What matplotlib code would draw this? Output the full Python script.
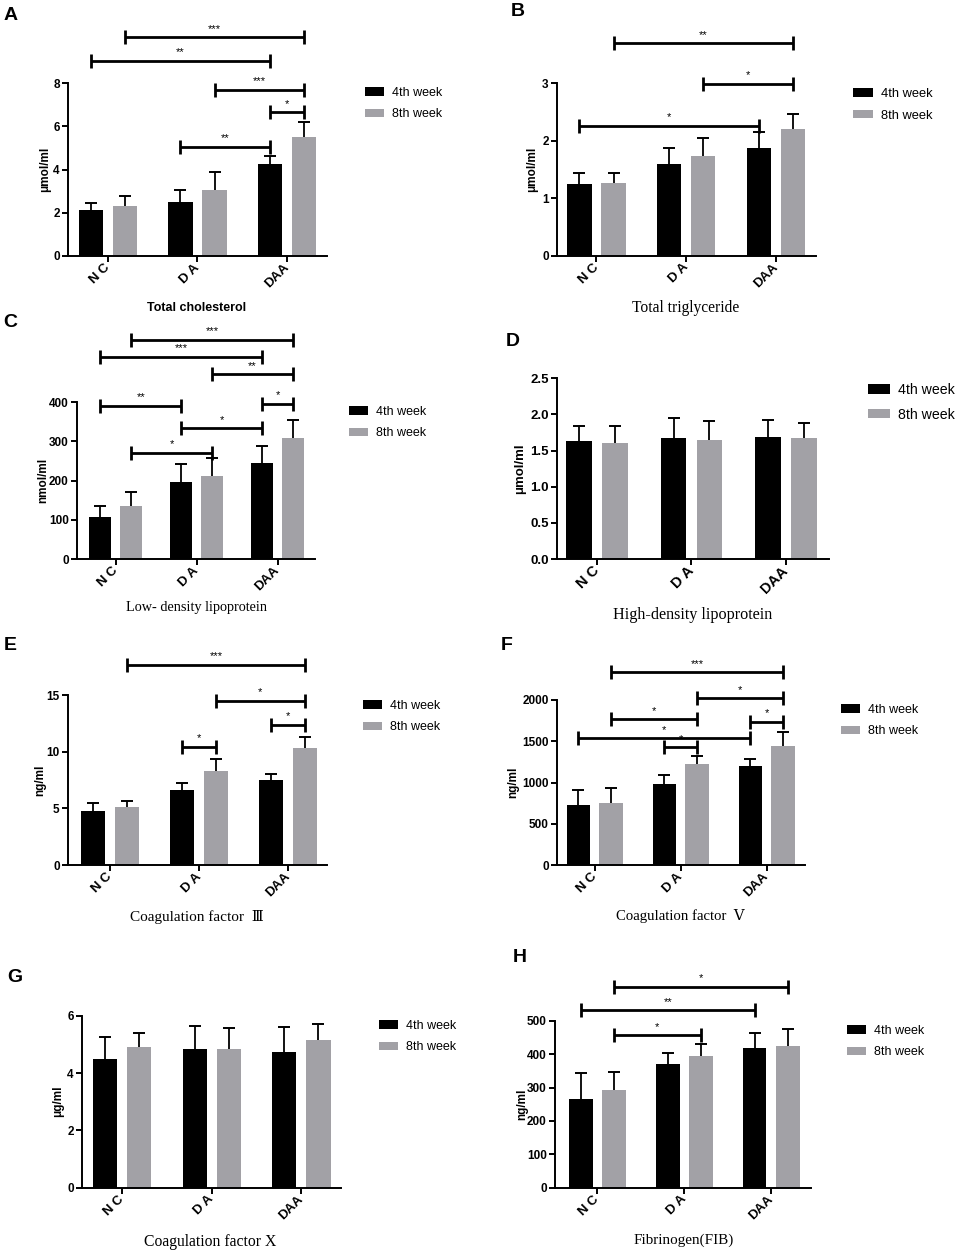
import matplotlib
matplotlib.use('Agg')
import matplotlib.pyplot as plt
import numpy as np

plt.rcParams['font.family'] = ['Liberation Sans', 'DejaVu Sans']

categories = ['N C', 'D A', 'DAA']
series_names = ['4th week', '8th week']

# A Total cholesterol (umol/ml)
tc_w4 = [2.12, 2.51, 4.27]
tc_w4_sd = [0.34, 0.54, 0.34]
tc_w8 = [2.32, 3.05, 5.48]
tc_w8_sd = [0.47, 0.82, 0.72]
tc_sig = [((0, 1), (2, 1), 10.12, '***'), ((0, 0), (2, 0), 9.04, '**'),
          ((1, 1), (2, 1), 7.69, '***'), ((2, 0), (2, 1), 6.64, '*'),
          ((1, 0), (2, 0), 5.06, '**')]

# B Total triglyceride (umol/ml)
tg_w4 = [1.25, 1.60, 1.87]
tg_w4_sd = [0.195, 0.28, 0.29]
tg_w8 = [1.27, 1.735, 2.205]
tg_w8_sd = [0.175, 0.32, 0.265]
tg_sig = [((0, 1), (2, 1), 3.70, '**'), ((1, 1), (2, 1), 2.99, '*'),
          ((0, 0), (2, 0), 2.258, '*')]

# C Low-density lipoprotein (nmol/ml)
ldl_w4 = [108, 197, 246]
ldl_w4_sd = [28, 45.5, 43]
ldl_w8 = [136, 213, 308]
ldl_w8_sd = [36, 46, 46]
ldl_sig = [((0, 1), (2, 1), 559, '***'), ((0, 0), (2, 0), 516.6, '***'),
           ((1, 1), (2, 1), 472, '**'), ((2, 0), (2, 1), 396, '*'),
           ((0, 0), (1, 0), 391.5, '**'), ((1, 0), (2, 0), 333.6, '*'),
           ((0, 1), (1, 1), 271.5, '*')]

# D High-density lipoprotein (umol/ml)
hdl_w4 = [1.637, 1.67, 1.684]
hdl_w4_sd = [0.208, 0.277, 0.244]
hdl_w8 = [1.605, 1.651, 1.674]
hdl_w8_sd = [0.231, 0.259, 0.203]
hdl_sig = []

# E Coagulation factor III (ng/ml)
f3_w4 = [4.76, 6.59, 7.47]
f3_w4_sd = [0.74, 0.65, 0.53]
f3_w8 = [5.12, 8.29, 10.35]
f3_w8_sd = [0.50, 1.09, 0.97]
f3_sig = [((0, 1), (2, 1), 17.68, '***'), ((1, 1), (2, 1), 14.47, '*'),
          ((2, 0), (2, 1), 12.38, '*'), ((1, 0), (1, 1), 10.44, '*')]

# F Coagulation factor V (ng/ml)
f5_w4 = [723, 982, 1204]
f5_w4_sd = [190, 105, 81]
f5_w8 = [747, 1224, 1446]
f5_w8_sd = [190, 97, 162]
f5_sig = [((0, 1), (2, 1), 2335, '***'), ((1, 1), (2, 1), 2020, '*'),
          ((0, 1), (1, 1), 1766, '*'), ((2, 0), (2, 1), 1737, '*'),
          ((0, 0), (2, 0), 1535, '*'), ((1, 0), (1, 1), 1426, '*')]

# G Coagulation factor X (ug/ml)
f10_w4 = [4.49, 4.83, 4.74]
f10_w4_sd = [0.78, 0.81, 0.86]
f10_w8 = [4.91, 4.85, 5.14]
f10_w8_sd = [0.47, 0.73, 0.56]
f10_sig = []

# H Fibrinogen (ng/ml)
fib_w4 = [266.5, 369, 419]
fib_w4_sd = [77.5, 33, 45]
fib_w8 = [294, 394, 425]
fib_w8_sd = [52, 36, 50]
fib_sig = [((0, 1), (2, 1), 602, '*'), ((0, 0), (2, 0), 531, '**'),
           ((0, 1), (1, 1), 456, '*')]

yticks_A = [0, 2, 4, 6, 8]
yticks_B = [0, 1, 2, 3]
yticks_C = [0, 100, 200, 300, 400]
yticks_D = [0.0, 0.5, 1.0, 1.5, 2.0, 2.5]
yticks_E = [0, 5, 10, 15]
yticks_F = [0, 500, 1000, 1500, 2000]
yticks_G = [0, 2, 4, 6]
yticks_H = [0, 100, 200, 300, 400, 500]

W, H = 962, 1253
BLACK = '#000000'
GRAY = '#a2a1a6'
OFFS = [-0.19, 0.19]
BW = 0.27

panels = [
    dict(letter='A', lxy=(11, 15), box=(68, 83, 327, 256), xlim=(-0.447, 2.447),
         w4=tc_w4, w4sd=tc_w4_sd, w8=tc_w8, w8sd=tc_w8_sd, sig=tc_sig, yticks=yticks_A, yfmt='{:g}',
         ylabel='μmol/ml', ylx=45, xlabel='Total cholesterol', xlxy=(197, 308), serif=False, xfs=9,
         leg=(365, 94), lfs=9, tfs=8.5),
    dict(letter='B', lxy=(518, 12), box=(557, 83.3, 816, 255.7), xlim=(-0.44, 2.447),
         w4=tg_w4, w4sd=tg_w4_sd, w8=tg_w8, w8sd=tg_w8_sd, sig=tg_sig, yticks=yticks_B, yfmt='{:g}',
         ylabel='μmol/ml', ylx=532, xlabel='Total triglyceride', xlxy=(686, 308), serif=True, xfs=11.2,
         leg=(853, 95), lfs=9.3, tfs=8.5),
    dict(letter='C', lxy=(10, 322), box=(77, 402.3, 315, 559), xlim=(-0.478, 2.46),
         w4=ldl_w4, w4sd=ldl_w4_sd, w8=ldl_w8, w8sd=ldl_w8_sd, sig=ldl_sig, yticks=yticks_C, yfmt='{:g}',
         ylabel='nmol/ml', ylx=43, xlabel='Low- density lipoprotein', xlxy=(197, 608), serif=True, xfs=10.3,
         leg=(349, 413), lfs=9, tfs=8.5),
    dict(letter='D', lxy=(513, 341), box=(557, 378.3, 829, 559), xlim=(-0.424, 2.456),
         w4=hdl_w4, w4sd=hdl_w4_sd, w8=hdl_w8, w8sd=hdl_w8_sd, sig=hdl_sig, yticks=yticks_D, yfmt='{:.1f}',
         ylabel='μmol/ml', ylx=520, xlabel='High-density lipoprotein', xlxy=(693, 615), serif=True, xfs=11.6,
         leg=(868, 390), lfs=10.2, tfs=9.5),
    dict(letter='E', lxy=(10, 645), box=(68, 695, 327, 865), xlim=(-0.477, 2.44),
         w4=f3_w4, w4sd=f3_w4_sd, w8=f3_w8, w8sd=f3_w8_sd, sig=f3_sig, yticks=yticks_E, yfmt='{:g}',
         ylabel='ng/ml', ylx=40, xlabel='Coagulation factor  Ⅲ', xlxy=(197, 917), serif=True, xfs=11,
         leg=(363, 707), lfs=9, tfs=8.5),
    dict(letter='F', lxy=(507, 645), box=(557, 700, 805, 865), xlim=(-0.439, 2.447),
         w4=f5_w4, w4sd=f5_w4_sd, w8=f5_w8, w8sd=f5_w8_sd, sig=f5_sig, yticks=yticks_F, yfmt='{:g}',
         ylabel='ng/ml', ylx=513, xlabel='Coagulation factor  Ⅴ', xlxy=(680, 916), serif=True, xfs=10.6,
         leg=(841, 711), lfs=9, tfs=8.5),
    dict(letter='G', lxy=(15, 977), box=(82, 1015.7, 341, 1187.7), xlim=(-0.446, 2.442),
         w4=f10_w4, w4sd=f10_w4_sd, w8=f10_w8, w8sd=f10_w8_sd, sig=f10_sig, yticks=yticks_G, yfmt='{:g}',
         ylabel='μg/ml', ylx=58, xlabel='Coagulation factor X', xlxy=(210, 1242), serif=True, xfs=11.3,
         leg=(379, 1027), lfs=9, tfs=8.5),
    dict(letter='H', lxy=(520, 957), box=(555, 1020.7, 811, 1187.7), xlim=(-0.4875, 2.457),
         w4=fib_w4, w4sd=fib_w4_sd, w8=fib_w8, w8sd=fib_w8_sd, sig=fib_sig, yticks=yticks_H, yfmt='{:g}',
         ylabel='ng/ml', ylx=522, xlabel='Fibrinogen(FIB)', xlxy=(684, 1240), serif=True, xfs=10.9,
         leg=(847, 1032), lfs=9, tfs=8.5),
]

SERIF = ['Liberation Serif', 'DejaVu Serif', 'Noto Sans CJK SC', 'DejaVu Sans']

fig = plt.figure(figsize=(W / 100, H / 100), dpi=100)

for p in panels:
    l, t, r, b = p['box']
    ax = fig.add_axes([l / W, 1 - b / H, (r - l) / W, (b - t) / H])
    x = np.arange(len(categories))
    b1 = ax.bar(x + OFFS[0], p['w4'], width=BW, color=BLACK, label=series_names[0], zorder=2)
    b2 = ax.bar(x + OFFS[1], p['w8'], width=BW, color=GRAY, label=series_names[1], zorder=2)
    # one-sided (upper) error bars
    for vals, sds, off in ((p['w4'], p['w4sd'], OFFS[0]), (p['w8'], p['w8sd'], OFFS[1])):
        vals = np.asarray(vals, float)
        tops = vals + np.asarray(sds, float)
        ax.vlines(x + off, vals, tops, color='k', lw=1.3, zorder=3)
        ax.plot(x + off, tops, ls='none', marker='_', ms=8, mew=1.4, color='k', zorder=3)
    ax.set_xlim(*p['xlim'])
    yt = p['yticks']
    ax.set_ylim(yt[0], yt[-1])
    ax.set_yticks(yt)
    ax.set_yticklabels([p['yfmt'].format(v) for v in yt], fontweight='bold', fontsize=p['tfs'])
    ax.set_xticks(x)
    ax.set_xticklabels(categories, rotation=45, ha='right', va='center', rotation_mode='anchor',
                       fontweight='bold', fontsize=p['tfs'] + 1)
    for s in ('top', 'right'):
        ax.spines[s].set_visible(False)
    for s in ('left', 'bottom'):
        ax.spines[s].set_linewidth(1.4)
    ax.tick_params(axis='both', length=4, width=1.4, pad=2)
    ax.tick_params(axis='x', pad=3)

    # significance brackets
    for (ga, sa), (gb, sb), y, stars in p['sig']:
        x1 = ga + OFFS[sa]
        x2 = gb + OFFS[sb]
        ax.plot([x1, x2], [y, y], color='k', lw=2, clip_on=False, solid_capstyle='butt', zorder=4)
        ax.plot([x1, x2], [y, y], ls='none', marker='|', ms=10, mew=2, color='k',
                clip_on=False, zorder=4)
        ax.annotate(stars, xy=((x1 + x2) / 2, y), xytext=(0, 2.5), textcoords='offset points',
                    ha='center', va='bottom', fontsize=8, annotation_clip=False)

    # y label
    ax.set_ylabel(p['ylabel'], fontweight='bold', fontsize=p['tfs'])
    ax.yaxis.set_label_coords((p['ylx'] - l) / (r - l), 0.5)
    ax.yaxis.label.set_va('center')

    # x label
    xc, yc = p['xlxy']
    if p['serif']:
        ax.set_xlabel(p['xlabel'], family=SERIF, fontsize=p['xfs'])
    else:
        ax.set_xlabel(p['xlabel'], fontweight='bold', fontsize=p['xfs'])
    ax.xaxis.set_label_coords((xc - l) / (r - l), (b - yc) / (b - t))
    ax.xaxis.label.set_va('center')

    # legend
    lx, ly = p['leg']
    ax.legend(handles=[b1, b2], loc='upper left', bbox_to_anchor=(lx / W, 1 - (ly - 7) / H),
              bbox_transform=fig.transFigure, frameon=False, fontsize=p['lfs'], borderpad=0,
              borderaxespad=0, handlelength=1.55, handleheight=0.65, handletextpad=0.6,
              labelspacing=0.75)

    # panel letter
    fig.text(p['lxy'][0] / W, 1 - p['lxy'][1] / H, p['letter'], fontsize=14, fontweight='bold',
             ha='center', va='center')

fig.savefig('out.png', dpi=100, facecolor='white')
